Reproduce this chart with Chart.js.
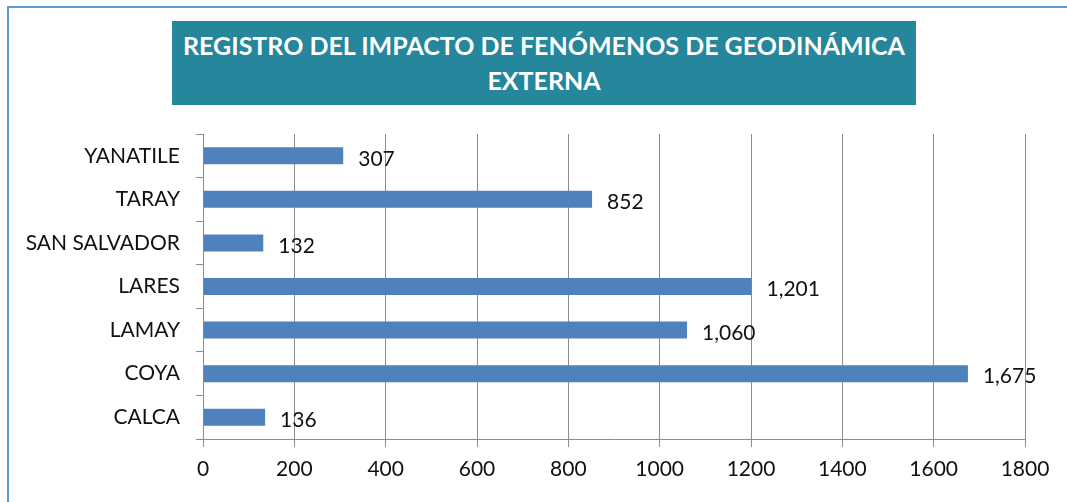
<!DOCTYPE html>
<html>
<head>
<meta charset="utf-8">
<script src="https://cdn.jsdelivr.net/npm/chart.js@4.4.1/dist/chart.umd.min.js"></script>
<style>
  html, body { margin: 0; padding: 0; background: #fff; }
  #wrap { position: relative; width: 1067px; height: 502px; overflow: hidden; }
  #frame { position: absolute; left: 7px; top: 6px; width: 1100px; height: 600px;
           border-left: 2px solid #5b9bd5; border-top: 2px solid #5b9bd5; }
  #title { position: absolute; left: 172px; top: 21px; width: 744px; height: 84px;
           background: #26869b; color: #fff; font-family: Lato, sans-serif; font-weight: bold;
           font-size: 25px; line-height: 35px; text-align: center; padding-top: 7px; box-sizing: border-box; }
  #myChart { position: absolute; left: 0; top: 0; }
</style>
</head>
<body>
<div id="wrap">
  <div id="frame"></div>
  <canvas id="myChart" width="1067" height="502"></canvas>
  <div id="title">REGISTRO DEL IMPACTO DE FENÓMENOS DE GEODINÁMICA<br>EXTERNA</div>
</div>
<script>
'use strict';

// data
var districts = ['YANATILE', 'TARAY', 'SAN SALVADOR', 'LARES', 'LAMAY', 'COYA', 'CALCA'];
var impacts = [307, 852, 132, 1201, 1060, 1675, 136];
var xTicks = [0, 200, 400, 600, 800, 1000, 1200, 1400, 1600, 1800];

var font = 'Lato, sans-serif';

// value labels to the right of the bars
var barLabels = {
    id: 'barLabels',
    afterDatasetsDraw: function(chart) {
        var c = chart.ctx;
        var meta = chart.getDatasetMeta(0);
        c.save();
        c.font = '21px ' + font;
        c.fillStyle = '#111';
        c.textBaseline = 'middle';
        meta.data.forEach(function(bar, i) {
            c.fillText(impacts[i].toLocaleString('en-US'), bar.x + 15, bar.y + 3);
        });
        c.restore();
    }
};

var ctx = document.getElementById('myChart').getContext('2d');
var myChart = new Chart(ctx, {
    type: 'bar',
    data: {
        labels: districts,
        datasets: [{
            data: impacts,
            backgroundColor: '#4f81bd',
            categoryPercentage: 0.39,
            barPercentage: 1
        }]
    },
    options: {
        indexAxis: 'y',
        responsive: false,
        animation: false,
        layout: { padding: { top: 134, right: 42, left: 0, bottom: 0 } },
        plugins: { legend: { display: false }, tooltip: { enabled: false } },
        scales: {
            x: {
                min: 0,
                max: 1800,
                afterBuildTicks: function(s) { s.ticks = xTicks.map(function(v) { return { value: v }; }); },
                afterFit: function(s) { s.height = 63; },
                grid: { color: '#8c8c8c', lineWidth: 1, tickLength: 8 },
                border: { color: '#8c8c8c' },
                ticks: {
                    color: '#111',
                    font: { family: font, size: 21 },
                    padding: 10,
                    callback: function(v) { return String(v); }
                }
            },
            y: {
                afterFit: function(s) { s.width = 203; },
                grid: { drawOnChartArea: false, color: '#8c8c8c', tickLength: 7 },
                border: { color: '#8c8c8c' },
                ticks: { color: '#111', font: { family: font, size: 21 }, padding: 16 }
            }
        }
    },
    plugins: [barLabels]
});
</script>
</body>
</html>
